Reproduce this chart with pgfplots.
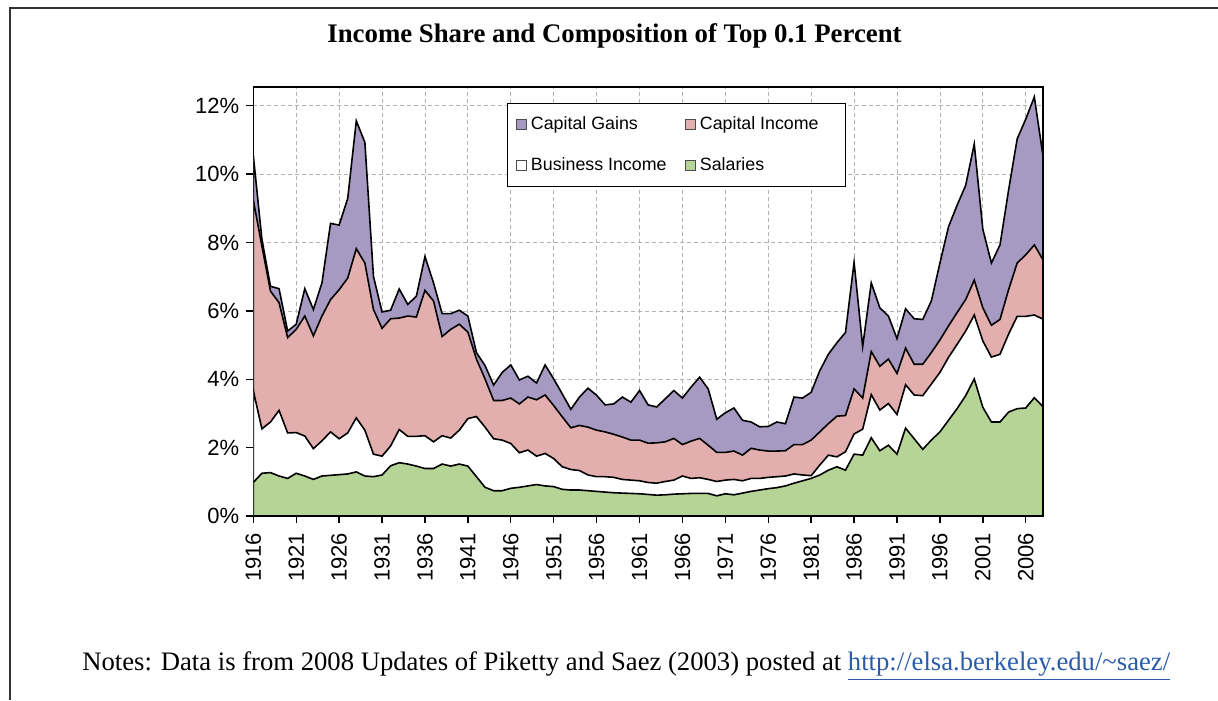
\documentclass[border=0pt]{standalone}
\usepackage{pgfplots}
\pgfplotsset{compat=1.18}
\usepackage{pgfplotstable}
\usepackage{fontspec}
\setmainfont{Liberation Serif}
\newfontfamily\sansf{Liberation Sans}
\definecolor{cgc}{RGB}{166,153,194}
\definecolor{cic}{RGB}{226,175,174}
\definecolor{sac}{RGB}{182,212,150}
\definecolor{linkc}{RGB}{42,92,170}
\pgfplotstableread{
year S SB SBC T
1916 0.98 3.67 9.24 10.55
1917 1.25 2.55 7.90 8.10
1918 1.27 2.75 6.58 6.72
1919 1.17 3.09 6.24 6.65
1920 1.10 2.43 5.22 5.41
1921 1.25 2.44 5.46 5.61
1922 1.17 2.34 5.85 6.65
1923 1.07 1.97 5.27 6.04
1924 1.17 2.20 5.85 6.82
1925 1.19 2.46 6.33 8.56
1926 1.21 2.26 6.62 8.51
1927 1.23 2.43 6.96 9.29
1928 1.29 2.87 7.82 11.56
1929 1.17 2.51 7.40 10.93
1930 1.15 1.81 6.04 7.01
1931 1.20 1.75 5.49 5.97
1932 1.47 2.05 5.77 6.02
1933 1.56 2.53 5.79 6.64
1934 1.52 2.33 5.85 6.19
1935 1.46 2.33 5.82 6.43
1936 1.39 2.35 6.60 7.59
1937 1.39 2.17 6.29 6.82
1938 1.52 2.35 5.25 5.92
1939 1.46 2.28 5.46 5.92
1940 1.52 2.51 5.61 6.02
1941 1.46 2.85 5.38 5.85
1942 1.15 2.91 4.59 4.78
1943 0.84 2.60 4.01 4.40
1944 0.74 2.26 3.38 3.83
1945 0.74 2.22 3.38 4.20
1946 0.81 2.12 3.45 4.42
1947 0.84 1.85 3.28 3.98
1948 0.88 1.93 3.48 4.09
1949 0.92 1.75 3.40 3.89
1950 0.88 1.83 3.54 4.42
1951 0.86 1.68 3.23 4.01
1952 0.78 1.44 2.90 3.57
1953 0.76 1.36 2.58 3.12
1954 0.76 1.33 2.65 3.48
1955 0.74 1.20 2.60 3.74
1956 0.72 1.15 2.51 3.53
1957 0.70 1.15 2.46 3.25
1958 0.68 1.13 2.39 3.28
1959 0.67 1.07 2.31 3.48
1960 0.66 1.05 2.22 3.33
1961 0.65 1.03 2.22 3.67
1962 0.63 0.98 2.13 3.25
1963 0.61 0.96 2.14 3.19
1964 0.62 1.01 2.17 3.43
1965 0.64 1.05 2.27 3.67
1966 0.65 1.17 2.09 3.45
1967 0.66 1.10 2.19 3.77
1968 0.66 1.12 2.27 4.06
1969 0.66 1.07 2.07 3.72
1970 0.59 1.01 1.86 2.83
1971 0.65 1.05 1.86 3.02
1972 0.62 1.07 1.90 3.16
1973 0.67 1.03 1.78 2.80
1974 0.72 1.10 1.98 2.75
1975 0.76 1.10 1.93 2.61
1976 0.80 1.13 1.90 2.62
1977 0.83 1.15 1.90 2.75
1978 0.88 1.17 1.91 2.70
1979 0.96 1.23 2.09 3.48
1980 1.03 1.20 2.09 3.45
1981 1.10 1.18 2.22 3.62
1982 1.20 1.49 2.46 4.25
1983 1.34 1.78 2.70 4.73
1984 1.44 1.73 2.92 5.07
1985 1.34 1.88 2.94 5.37
1986 1.81 2.40 3.72 7.42
1987 1.78 2.54 3.45 4.96
1988 2.29 3.55 4.81 6.82
1989 1.91 3.10 4.38 6.09
1990 2.07 3.29 4.59 5.85
1991 1.81 2.97 4.17 5.19
1992 2.57 3.84 4.91 6.06
1993 2.26 3.54 4.44 5.77
1994 1.95 3.52 4.44 5.75
1995 2.22 3.86 4.78 6.29
1996 2.46 4.20 5.15 7.40
1997 2.80 4.64 5.56 8.46
1998 3.14 5.02 5.95 9.09
1999 3.52 5.41 6.33 9.67
2000 4.01 5.88 6.90 10.88
2001 3.18 5.12 6.09 8.39
2002 2.75 4.65 5.58 7.40
2003 2.75 4.73 5.75 7.93
2004 3.04 5.32 6.62 9.53
2005 3.14 5.84 7.40 11.03
2006 3.16 5.84 7.64 11.61
2007 3.46 5.88 7.93 12.26
2008 3.20 5.76 7.50 10.55
}\data
\begin{document}
\begin{tikzpicture}[x=1bp,y=1bp]
\path[use as bounding box] (0,0) rectangle (609,350);
\draw[line width=1bp, black!80] (5,0) -- (5,346) -- (609,346);
\node[font=\bfseries\fontsize{13.4bp}{16bp}\selectfont] at (307.25,332) {Income Share and Composition of Top 0.1 Percent};
\begin{axis}[
  at={(126.65bp,92bp)}, anchor=south west, scale only axis,
  width=394.8bp, height=214.5bp,
  xmin=1916, xmax=2008, ymin=0, ymax=12.55,
  axis line style={line width=0.8bp},
  tick align=outside, xtick pos=bottom, ytick pos=left,
  major tick length=3.5bp,
  tick style={black, line width=0.7bp},
  xtick={1916,1921,...,2006},
  xticklabels={1916,1921,1926,1931,1936,1941,1946,1951,1956,1961,1966,1971,1976,1981,1986,1991,1996,2001,2006},
  ytick={0,2,4,6,8,10,12},
  yticklabels={0\%,2\%,4\%,6\%,8\%,10\%,12\%},
  xticklabel style={rotate=90, anchor=east, xshift=-1.5bp, font=\sansf\fontsize{11bp}{13bp}\selectfont},
  yticklabel style={font=\sansf\fontsize{11bp}{13bp}\selectfont},
  grid=major,
  major grid style={black!30, dash pattern=on 2bp off 1.5bp, line width=0.4bp},
  legend columns=2,
  legend style={at={(0.3213,0.9627)}, anchor=north west, draw=black, line width=0.6bp,
    font=\sansf\fontsize{8.9bp}{10bp}\selectfont, inner xsep=4bp, inner ysep=4.5bp,
    row sep=8.5bp, /tikz/every even column/.append style={column sep=7bp}, cells={anchor=west}},
  legend image code/.code={\draw[#1, draw=black!70, line width=0.5bp] (0bp,-2.6bp) rectangle (5.2bp,2.6bp);},
]
\addplot[fill=cgc, draw=black, line width=0.8bp] table[x=year,y=T] {\data} \closedcycle;
\addlegendentry{Capital Gains}
\addplot[fill=cic, draw=black, line width=0.8bp] table[x=year,y=SBC] {\data} \closedcycle;
\addlegendentry{Capital Income\hspace*{7.5bp}}
\addplot[fill=white, draw=black, line width=0.8bp] table[x=year,y=SB] {\data} \closedcycle;
\addlegendentry{Business Income}
\addplot[fill=sac, draw=black, line width=0.8bp] table[x=year,y=S] {\data} \closedcycle;
\addlegendentry{Salaries}
\end{axis}
\node[anchor=west, inner sep=0pt, font=\fontsize{13.33bp}{16bp}\selectfont] at (41,17) {Notes: Data is from 2008 Updates of Piketty and Saez (2003) posted at \textcolor{linkc}{\underline{http://elsa.berkeley.edu/\textasciitilde saez/}}};
\end{tikzpicture}
\end{document}
